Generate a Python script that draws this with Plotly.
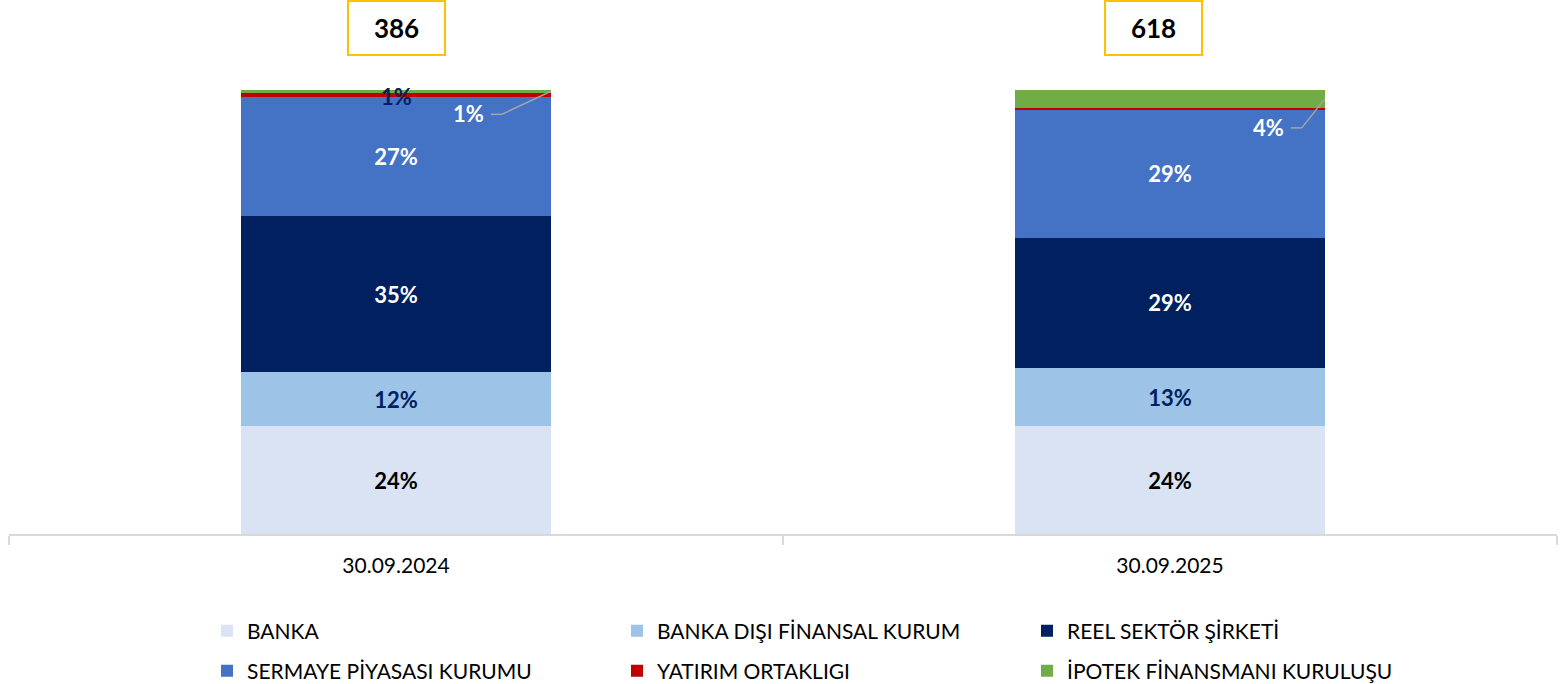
import plotly.graph_objects as go

categories = ["30.09.2024", "30.09.2025"]
series_names = ["BANKA", "BANKA DIŞI FİNANSAL KURUM", "REEL SEKTÖR ŞİRKETİ",
                "SERMAYE PİYASASI KURUMU", "YATIRIM ORTAKLIGI", "İPOTEK FİNANSMANI KURULUŞU"]
banka = [24.3, 24.3]
banka_disi = [12.2, 13.1]
reel = [35.1, 29.3]
sermaye = [26.9, 28.8]
yatirim = [0.9, 0.5]
ipotek = [0.6, 4.0]
totals = [386, 618]

series_values = [banka, banka_disi, reel, sermaye, yatirim, ipotek]
colors = ["#DAE3F3", "#9DC3E6", "#002060", "#4472C4", "#C00000", "#70AD47"]
label_colors = ["#000000", "#002060", "#FFFFFF", "#FFFFFF", "#002060", "#FFFFFF"]
legend_rows = ["legend", "legend", "legend", "legend2", "legend2", "legend2"]

FONT = "Lato"
FIG_W = 1562
FIG_H = 684
M_L, M_R, M_T, M_B = 9, 5, 90, 150
PLOT_W = float(FIG_W - M_L - M_R)
PLOT_H = float(FIG_H - M_T - M_B)
PX_PER_CAT = PLOT_W / len(categories)
BAR_W = 0.4
LABEL_SIZE = 22

fig = go.Figure()
for name, vals, col, lc, lg in zip(series_names, series_values, colors, label_colors, legend_rows):
    txt = [f"{round(v)}%" if v >= 2 and name != "İPOTEK FİNANSMANI KURULUŞU" else "" for v in vals]
    fig.add_trace(go.Bar(
        name=name, x=categories, y=vals, marker=dict(color=col, line=dict(width=0)),
        text=txt, textposition="inside", insidetextanchor="middle",
        textfont=dict(family=FONT, size=LABEL_SIZE, color=lc, weight="bold"),
        hoverinfo="skip", width=BAR_W, legend=lg,
    ))

annotations = []
shapes = []


def dx(px):
    return px / PX_PER_CAT


def dy(px):
    return -px / PLOT_H * 100.0


for i in range(len(categories)):
    cum = 0.0
    bases = []
    for vals in series_values:
        bases.append(cum)
        cum += vals[i]
    if i == 0:
        annotations.append(dict(
            x=i, y=bases[4] + yatirim[i] / 2, xref="x", yref="y",
            text=f"<b>{round(yatirim[i])}%</b>", showarrow=False, yshift=-2,
            font=dict(family=FONT, size=LABEL_SIZE, color="#002060")))
    ex = i + BAR_W / 2
    ey = bases[5] + ipotek[i] / 2
    if i == 0:
        elbow = (-49, 23); start = (-60, 23); tcen = (-82, 22)
    else:
        elbow = (-23, 29); start = (-34, 29); tcen = (-56, 29)
    shapes.append(dict(type="line", xref="x", yref="y",
                       x0=ex + dx(start[0]), y0=ey + dy(start[1]),
                       x1=ex + dx(elbow[0]), y1=ey + dy(elbow[1]),
                       line=dict(color="#A6A6A6", width=1.5)))
    shapes.append(dict(type="line", xref="x", yref="y",
                       x0=ex + dx(elbow[0]), y0=ey + dy(elbow[1]),
                       x1=ex, y1=ey,
                       line=dict(color="#A6A6A6", width=1.5)))
    annotations.append(dict(
        x=ex + dx(tcen[0]), y=ey + dy(tcen[1]), xref="x", yref="y",
        text=f"<b>{round(ipotek[i])}%</b>", showarrow=False,
        font=dict(family=FONT, size=LABEL_SIZE, color="#FFFFFF")))
    annotations.append(dict(
        x=i, y=1, xref="x", yref="paper", yanchor="middle", yshift=62,
        xshift=(0 if i == 0 else -17),
        text=f"<b>{totals[i]}</b>", showarrow=False,
        font=dict(family=FONT, size=26, color="#000000"),
        bordercolor="#FFC000", borderwidth=2, bgcolor="#FFFFFF",
        width=93, height=50, valign="middle"))

legend_common = dict(orientation="h", xanchor="left", yanchor="middle",
                     xref="container", yref="container",
                     x=207 / FIG_W, traceorder="normal",
                     entrywidth=365, entrywidthmode="pixels",
                     font=dict(family=FONT, size=21, color="#000000"),
                     itemwidth=30, bgcolor="rgba(0,0,0,0)")

fig.update_layout(
    barmode="stack",
    width=FIG_W, height=FIG_H,
    margin=dict(l=M_L, r=M_R, t=M_T, b=M_B, autoexpand=False),
    paper_bgcolor="#FFFFFF", plot_bgcolor="#FFFFFF",
    font=dict(family=FONT, size=21, color="#000000"),
    xaxis=dict(type="category", showline=True, linecolor="#D9D9D9", linewidth=2,
               ticks="outside", tickson="boundaries", ticklen=9, tickcolor="#D9D9D9",
               tickwidth=1.5, showgrid=False, ticklabelstandoff=12, automargin=False,
               tickfont=dict(family=FONT, size=21, color="#000000")),
    yaxis=dict(visible=False, range=[0, 100], showgrid=False),
    legend=dict(legend_common, y=1 - 631 / FIG_H),
    legend2=dict(legend_common, y=1 - 671 / FIG_H),
    annotations=annotations, shapes=shapes,
    showlegend=True,
)

fig.write_html("out.html", config={"displayModeBar": False},
               post_script="document.body.style.margin='0';document.body.style.padding='0';")
